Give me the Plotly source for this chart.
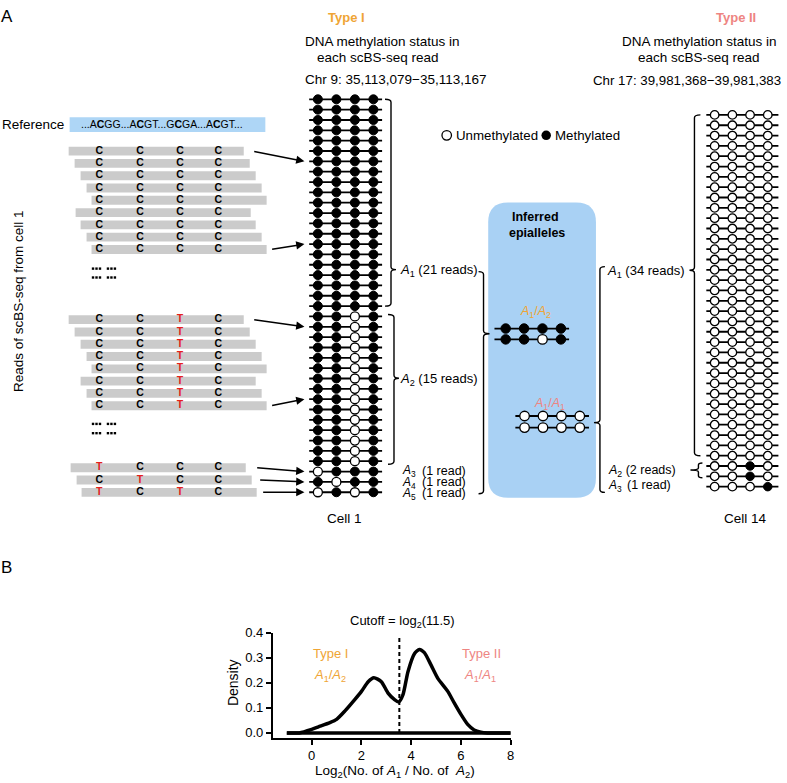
import math
import plotly.graph_objects as go

W, H = 787, 783
SANS = "Liberation Sans, Arial, Helvetica, sans-serif"
ORANGE = "#EFA535"
SALMON = "#EE8582"
BOXBLUE = "#A9D1F4"
REFBLUE = "#AED6F6"
GRAY = "#CBCBCB"
RED = "#E3211C"

# ---------------- data ----------------
cpg_sites = [1, 2, 3, 4]

cell1_epialleles = ["A1", "A2", "A3", "A4", "A5"]
cell1_counts = [21, 15, 1, 1, 1]
cell1_states = [[1, 1, 1, 1], [1, 1, 0, 1], [0, 1, 1, 1], [1, 0, 1, 1], [0, 1, 0, 1]]

cell14_epialleles = ["A1", "A2", "A3"]
cell14_counts = [34, 2, 1]
cell14_states = [[0, 0, 0, 0], [0, 0, 1, 0], [0, 0, 0, 1]]

inferred_type1 = [[1, 1, 1, 1], [1, 1, 0, 1]]   # A1/A2
inferred_type2 = [[0, 0, 0, 0], [0, 0, 0, 0]]   # A1/A1

reads_letters = [["CCCC"] * 9, ["CCTC"] * 8, ["TCCC", "CTCC", "TCTC"]]
reads_offsets = [[0, 6, 12, 18, 23, 7, 12, 18, 23],
                 [0, 6, 12, 18, 23, 12, 18, 23],
                 [2, 8, 13]]

density_x = [-1.0, -0.5, 0.0, 0.27, 0.73, 1.0, 1.33, 1.73, 2.0, 2.27, 2.5, 2.8, 3.07, 3.33,
             3.5, 3.67, 3.87, 4.13, 4.33, 4.53, 4.8, 5.07, 5.47, 5.73, 6.0, 6.27, 6.53, 6.8,
             7.07, 8.0]
density_y = [0.0, 0.0, 0.014, 0.024, 0.041, 0.054, 0.087, 0.133, 0.166, 0.205, 0.221, 0.205,
             0.159, 0.133, 0.124, 0.153, 0.245, 0.317, 0.334, 0.321, 0.271, 0.218, 0.166,
             0.12, 0.074, 0.034, 0.012, 0.003, 0.0, 0.0]
cutoff_ratio = 11.5
x_ticks = [0, 2, 4, 6, 8]
y_ticks = [0.0, 0.1, 0.2, 0.3, 0.4]

# ---------------- layout constants ----------------
C1_X0, C1_DX, C1_Y0, C1_DY = 319.5, 18.6, 93.5, 10.474
C14_X0, C14_DX, C14_Y0, C14_DY = 718.3, 17.8, 109.3, 10.46


def c1y(i):
    return C1_Y0 + i * C1_DY


def c14y(i):
    return C14_Y0 + i * C14_DY


def expand(counts, states):
    rows = []
    for c, s in zip(counts, states):
        rows.extend([s] * c)
    return rows


def dot_traces(rows, xs_fn, ys, x_lo, x_hi, xa, ya, msize=9):
    lx, ly, fx, fy, ox, oy = [], [], [], [], [], []
    for i, r in enumerate(rows):
        lx += [x_lo, x_hi, None]
        ly += [ys[i], ys[i], None]
        for j, v in enumerate(r):
            if v:
                fx.append(xs_fn(j)); fy.append(ys[i])
            else:
                ox.append(xs_fn(j)); oy.append(ys[i])
    return [
        go.Scatter(x=lx, y=ly, mode="lines", line=dict(color="black", width=1.8),
                   xaxis=xa, yaxis=ya, hoverinfo="skip", showlegend=False),
        go.Scatter(x=ox, y=oy, mode="markers",
                   marker=dict(size=msize, color="white", line=dict(color="black", width=1.3)),
                   xaxis=xa, yaxis=ya, hoverinfo="skip", showlegend=False),
        go.Scatter(x=fx, y=fy, mode="markers",
                   marker=dict(size=msize, color="black", line=dict(color="black", width=1)),
                   xaxis=xa, yaxis=ya, hoverinfo="skip", showlegend=False),
    ]


traces = []

# ---- reads on the left (overlay pixel axis) ----
READ_X0, READ_LEN = 69, 176
group_y0 = [146, 316.7, 466.7]
READ_STEP = 12.45
letter_x = [99.8, 140.7, 181, 219.5]
bar_y, bar_base = [], []
lt_x, lt_y, lt_t, lt_c = [], [], [], []
read_ends = []
for g, (letters, offs) in enumerate(zip(reads_letters, reads_offsets)):
    ends = []
    for k, (s, o) in enumerate(zip(letters, offs)):
        y = group_y0[g] + k * READ_STEP
        bar_y.append(y)
        bar_base.append(READ_X0 + o)
        ends.append((READ_X0 + o + READ_LEN, y))
        for j, ch in enumerate(s):
            lt_x.append(letter_x[j]); lt_y.append(y); lt_t.append(ch)
            lt_c.append(RED if ch == "T" else "black")
    read_ends.append(ends)

traces.append(go.Bar(orientation="h", y=bar_y, x=[READ_LEN] * len(bar_y), base=bar_base,
                     width=9, marker=dict(color=GRAY, line=dict(width=0)),
                     xaxis="x", yaxis="y", hoverinfo="skip", showlegend=False))
traces.append(go.Scatter(x=lt_x, y=lt_y, text=lt_t, mode="text",
                         textfont=dict(family=SANS, size=10.5, color=lt_c, weight="bold"),
                         xaxis="x", yaxis="y", hoverinfo="skip", showlegend=False))

# ellipsis dots ("··· ···") below read groups 1 and 2
ell_x, ell_y = [], []
for yy in (265, 274, 422.3, 431.7):
    for xx in (93.5, 97, 100.5, 108.5, 112, 115.5):
        ell_x.append(xx); ell_y.append(yy)
traces.append(go.Scatter(x=ell_x, y=ell_y, mode="markers",
                         marker=dict(symbol="square", size=2.4, color="black"),
                         xaxis="x", yaxis="y", hoverinfo="skip", showlegend=False))

# ---- matrices ----
cell1_rows = expand(cell1_counts, cell1_states)
cell14_rows = expand(cell14_counts, cell14_states)
traces += dot_traces(cell1_rows, lambda j: cpg_sites[j], list(range(len(cell1_rows))),
                     0.53, 4.47, "x3", "y3", msize=9)
traces += dot_traces(cell14_rows, lambda j: cpg_sites[j], list(range(len(cell14_rows))),
                     0.53, 4.6, "x4", "y4", msize=8.5)

# ---- inferred epialleles (overlay) ----
EP_DX = 18.5
traces += dot_traces(inferred_type1, lambda j: 536 + (j - 1.5) * EP_DX, [325.7, 336.7],
                     497, 572, "x", "y", msize=9.5)
traces += dot_traces(inferred_type2, lambda j: 555 + (j - 1.5) * EP_DX, [414.3, 426],
                     518, 592, "x", "y", msize=9.5)

# ---- legend markers ----
traces.append(go.Scatter(x=[449], y=[130], mode="markers",
                         marker=dict(size=9.5, color="white", line=dict(color="black", width=1.3)),
                         xaxis="x", yaxis="y", hoverinfo="skip", showlegend=False))
traces.append(go.Scatter(x=[549], y=[130], mode="markers",
                         marker=dict(size=9.5, color="black"),
                         xaxis="x", yaxis="y", hoverinfo="skip", showlegend=False))

# ---- panel B ----
cutoff_x = math.log2(cutoff_ratio)
traces.append(go.Scatter(x=[min(density_x), max(density_x)], y=[0, 0], mode="lines",
                         line=dict(color="black", width=3.5), xaxis="x2", yaxis="y2",
                         hoverinfo="skip", showlegend=False))
traces.append(go.Scatter(x=density_x, y=density_y, mode="lines",
                         line=dict(color="black", width=3.5, shape="spline", smoothing=0.6),
                         xaxis="x2", yaxis="y2", hoverinfo="skip", showlegend=False))
traces.append(go.Scatter(x=[cutoff_x, cutoff_x], y=[0, 0.39], mode="lines",
                         line=dict(color="black", width=2, dash="4px,3px"),
                         xaxis="x2", yaxis="y2", hoverinfo="skip", showlegend=False))

fig = go.Figure(data=traces)

# ---------------- shapes ----------------
shapes = []


def brace(x, y0, y1, ny, s, t=6, n=5, r=3):
    p = (f"M {x - s * t},{y0} Q {x},{y0} {x},{y0 + r} L {x},{ny - r} "
         f"Q {x},{ny} {x + s * n},{ny} Q {x},{ny} {x},{ny + r} "
         f"L {x},{y1 - r} Q {x},{y1} {x - s * t},{y1}")
    return dict(type="path", xref="x", yref="y", path=p,
                line=dict(color="black", width=1.4), layer="above")


def rrect(x0, y0, x1, y1, r, color):
    p = (f"M {x0 + r},{y0} L {x1 - r},{y0} Q {x1},{y0} {x1},{y0 + r} L {x1},{y1 - r} "
         f"Q {x1},{y1} {x1 - r},{y1} L {x0 + r},{y1} Q {x0},{y1} {x0},{y1 - r} "
         f"L {x0},{y0 + r} Q {x0},{y0} {x0 + r},{y0} Z")
    return dict(type="path", xref="x", yref="y", path=p, fillcolor=color,
                line=dict(width=0), layer="below")


shapes.append(rrect(490.7, 198, 599, 497, 20, BOXBLUE))
shapes.append(dict(type="rect", xref="x", yref="y", x0=70, x1=266.7, y0=111.7, y1=126.7,
                   fillcolor=REFBLUE, line=dict(width=0), layer="below"))
shapes.append(brace(393, c1y(0), c1y(20), 266, +1))
shapes.append(brace(396, c1y(21) - 2, c1y(35) + 3, 376, +1))
shapes.append(brace(486, 268, 493, 331, +1, t=5, n=6))
shapes.append(brace(698, c14y(0), c14y(33), 266.7, -1))
shapes.append(brace(702, c14y(34) - 3, c14y(35) + 1.5, 469, -1, t=4, n=8, r=2))
shapes.append(brace(603, 263, 491.7, 421, -1, t=5, n=6))

# ---------------- annotations ----------------
ann = []


def txt(x, y, s, size=13, color="black", xanchor="center", angle=0, bold=False):
    if bold:
        s = f"<b>{s}</b>"
    return dict(x=x, y=y, xref="x", yref="y", text=s, showarrow=False,
                font=dict(size=size, color=color, family=SANS),
                xanchor=xanchor, yanchor="middle", textangle=angle)


def A(n):
    return f"<i>A</i><sub>{n}</sub>"


ann.append(txt(7, 10, "A", size=17))
ann.append(txt(7, 568, "B", size=17))
ann.append(txt(348.5, 10.5, "Type I", color=ORANGE, bold=True))
ann.append(txt(740, 10.5, "Type II", color=SALMON, bold=True))
ann.append(txt(384.5, 35, "DNA methylation status in", size=13.5))
ann.append(txt(379.5, 51, "each scBS-seq read", size=13.5))
ann.append(txt(398, 73.5, "Chr 9: 35,113,079\u221235,113,167", size=13.5))
ann.append(txt(703, 35, "DNA methylation status in", size=13.5))
ann.append(txt(703, 51.5, "each scBS-seq read", size=13.5))
ann.append(txt(690.5, 74.5, "Chr 17: 39,981,368\u221239,981,383", size=13.3))
ann.append(txt(0, 119, "Reference", size=13.5, xanchor="left"))
ann.append(txt(79, 119, "...A<b>C</b>GG...A<b>C</b>GT...G<b>C</b>GA...A<b>C</b>GT...",
               size=10.5, xanchor="left"))
ann.append(txt(18, 298, "Reads of scBS-seq from cell 1", size=13.5, angle=-90))

ann.append(txt(456, 130, "Unmethylated", size=13.3, xanchor="left"))
ann.append(txt(556, 130, "Methylated", size=13.3, xanchor="left"))

ann.append(txt(538, 213, "Inferred", size=12.5, bold=True))
ann.append(txt(540, 229, "epialleles", size=12.5, bold=True))
ann.append(txt(538, 309, f"{A(1)}/{A(2)}", size=12.5, color=ORANGE))
ann.append(txt(552, 402, f"{A(1)}/{A(1)}", size=12.5, color=SALMON))

ann.append(txt(400.5, 267, f"{A(1)} (21 reads)", xanchor="left"))
ann.append(txt(400.5, 377, f"{A(2)} (15 reads)", xanchor="left"))
for k, yy in zip((3, 4, 5), (470.5, 482, 493.5)):
    ann.append(txt(402, yy, A(k), size=12, xanchor="left"))
    ann.append(txt(422, yy - 1, "(1 read)", size=12.5, xanchor="left"))
ann.append(txt(691, 267.5, f"{A(1)} (34 reads)", xanchor="right"))
ann.append(txt(609, 470, f"{A(2)} (2 reads)", size=12.5, xanchor="left"))
ann.append(txt(609, 485, A(3), size=12, xanchor="left"))
ann.append(txt(628, 484, "(1 read)", size=12.5, xanchor="left"))
ann.append(txt(346.5, 518, "Cell 1", size=13.5))
ann.append(txt(749, 518, "Cell 14", size=13.5))

# arrows from reads to matrix rows
arrow_rows = [6, 14, 22, 29, 36, 37, 38]
tails = [read_ends[0][0], read_ends[0][-1], read_ends[1][0], read_ends[1][-1]] + read_ends[2]
tail_gap = [9, 4, 9, 4, 10, 7, 5]
for r, (tx, ty), gp in zip(arrow_rows, tails, tail_gap):
    ann.append(dict(x=306, y=c1y(r), xref="x", yref="y", ax=tx + gp, ay=ty,
                    axref="x", ayref="y", text="", showarrow=True, arrowhead=2,
                    arrowsize=1.1, arrowwidth=1.5, arrowcolor="black", standoff=0))

# panel B texts
ann.append(txt(405, 622, "Cutoff = log<sub>2</sub>(11.5)"))
ann.append(txt(332, 655, "Type I", color=ORANGE))
ann.append(txt(332, 677, f"{A(1)}/{A(2)}", color=ORANGE))
ann.append(txt(484, 655, "Type II", color=SALMON))
ann.append(txt(482, 677, f"{A(1)}/{A(1)}", color=SALMON))
ann.append(txt(234, 684, "Density", size=14, angle=-90))
ann.append(txt(397, 774, f"Log<sub>2</sub>(No. of {A(1)} / No. of  {A(2)})", size=13.5))

# ---------------- axes ----------------
def dom_x(a, b):
    return [a / W, b / W]


def dom_y(top, bottom):
    return [1 - bottom / H, 1 - top / H]


hidden = dict(visible=False, showgrid=False, zeroline=False, fixedrange=True)
fig.update_layout(
    width=W, height=H, margin=dict(l=0, r=0, t=0, b=0),
    paper_bgcolor="white", plot_bgcolor="rgba(0,0,0,0)", showlegend=False,
    font=dict(family=SANS, color="black"),
    xaxis=dict(domain=[0, 1], range=[0, W], anchor="y", **hidden),
    yaxis=dict(domain=[0, 1], range=[H, 0], anchor="x", **hidden),
    xaxis3=dict(domain=dom_x(C1_X0 - 0.7 * C1_DX, C1_X0 + 3.7 * C1_DX), range=[0.3, 4.7],
                anchor="y3", **hidden),
    yaxis3=dict(domain=dom_y(c1y(-1), c1y(39)), range=[39, -1], anchor="x3", **hidden),
    xaxis4=dict(domain=dom_x(C14_X0 - 0.6 * C14_DX, C14_X0 + 3.75 * C14_DX), range=[0.4, 4.75],
                anchor="y4", **hidden),
    yaxis4=dict(domain=dom_y(c14y(-1), c14y(37)), range=[37, -1], anchor="x4", **hidden),
    xaxis2=dict(domain=dom_x(274.3, 513.3), range=[-1.56, 8], anchor="y2",
                showline=True, linewidth=2, linecolor="black", ticks="outside",
                ticklen=5, tickwidth=2, tickcolor="black", tickvals=x_ticks,
                tickfont=dict(family=SANS, size=13), showgrid=False, zeroline=False),
    yaxis2=dict(domain=dom_y(634, 740), range=[-0.0186, 0.4], anchor="x2",
                showline=True, linewidth=2, linecolor="black", ticks="outside",
                ticklen=5, tickwidth=2, tickcolor="black", tickvals=y_ticks,
                tickformat=".1f", tickfont=dict(family=SANS, size=13),
                showgrid=False, zeroline=False),
    shapes=shapes, annotations=ann,
)

fig.write_html("out.html", config={"displayModeBar": False, "staticPlot": True},
               post_script="document.body.style.margin='0px';document.body.style.padding='0px';")
